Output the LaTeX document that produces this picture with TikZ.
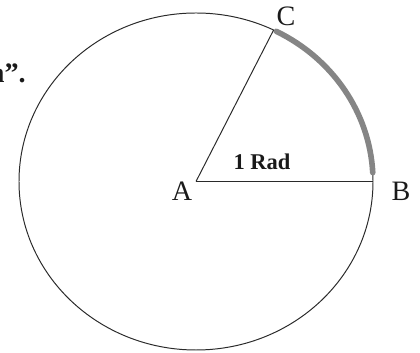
\documentclass[tikz,border=0pt]{standalone}
\usepackage{fontspec}
\setmainfont{Liberation Serif}
\usetikzlibrary{positioning, calc}
\definecolor{circle-line}{HTML}{2A2A2A}
\definecolor{arc-color}{HTML}{858585}
\definecolor{label-color}{HTML}{1A1A1A}
\tikzset{
  radius-line/.style={line width=0.7pt, draw=circle-line},
  arc-line/.style={line width=4pt, draw=arc-color, line cap=round},
  point-label/.style={font=\fontsize{20}{20}\selectfont, text=label-color, inner sep=0pt}
}

\begin{document}
\begin{tikzpicture}[x=0.025cm, y=0.025cm]
  \useasboundingbox (0, 0) rectangle (420, 353);

  \coordinate (A) at (196, 171.5);
  \coordinate (B) at ($(A) + (0:177 and 168.5)$);
  \coordinate (C) at ($(A) + (64:177 and 168.5)$);

  \draw[radius-line] (A) ellipse [x radius=177, y radius=168.5];
  \draw[arc-line] ($(A) + (3:177 and 168.5)$) arc [start angle=3, end angle=63, x radius=177, y radius=168.5];
  \draw[radius-line] (A) -- (B);
  \draw[radius-line] (A) -- (C);

  \node[point-label] (labelA) at (182, 162) {A};
  \node[point-label] (labelB) at (401, 162) {B};
  \node[point-label] (labelC) at (286, 337) {C};
  \node[font=\bfseries\fontsize{16}{16}\selectfont, text=label-color, inner sep=0pt] (rad) at (262, 191) {1 Rad};

  % fragment of text cut off at the left edge
  \node[point-label, font=\bfseries\fontsize{20}{20}\selectfont, anchor=east] (cut) at (26, 280) {n''.};
\end{tikzpicture}
\end{document}
